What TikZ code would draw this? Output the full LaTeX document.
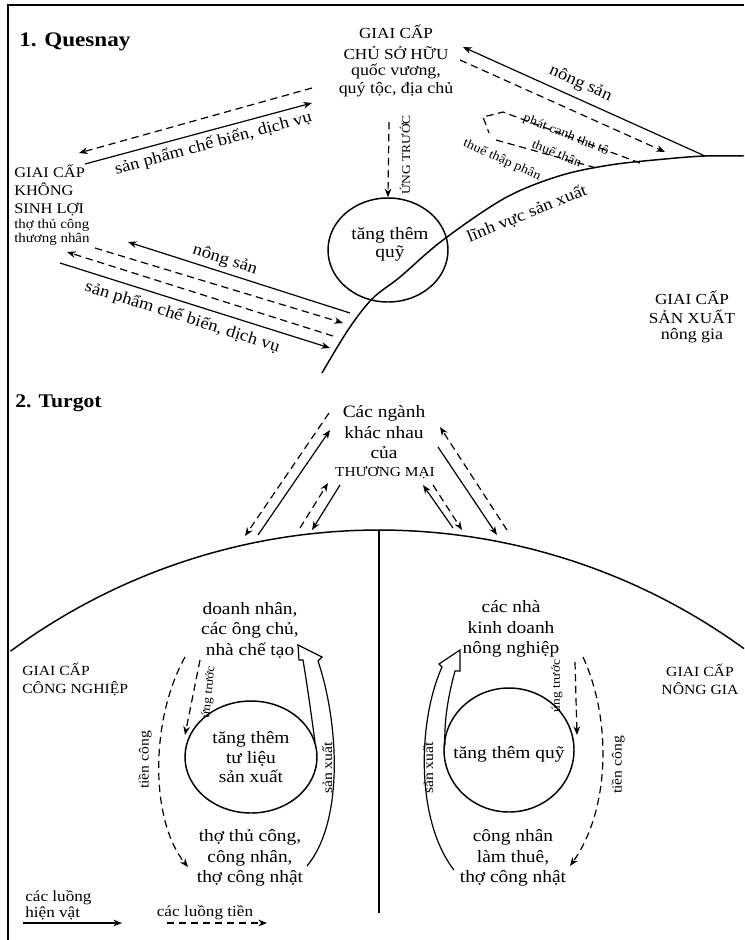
\documentclass[tikz,border=0pt]{standalone}
\usepackage{fontspec}
\setmainfont{Liberation Serif}[FakeStretch=1.12]
\usetikzlibrary{arrows.meta,shapes.geometric}
\begin{document}
\begin{tikzpicture}[x=0.75pt,y=-0.75pt,
  flow/.style={line width=0.9pt,-{Stealth[length=6.5pt,width=5pt]}},
  money/.style={flow,dash pattern=on 5.5pt off 3.5pt},
  dashline/.style={line width=0.9pt,dash pattern=on 5.5pt off 3.5pt},
  rim/.style={line width=1.1pt},
  hollow/.style={line width=0.9pt,line join=miter},
  ring/.style={draw,ellipse,line width=1.1pt,inner sep=0pt},
  lab/.style={font=\fontsize{13}{15.4}\selectfont,align=center,inner sep=0pt},
  caps/.style={font=\fontsize{11}{14}\selectfont,align=center,inner sep=0pt},
  sub/.style={font=\fontsize{12}{13.5}\selectfont,align=center,inner sep=0pt},
  note/.style={font=\fontsize{10}{12}\selectfont,inner sep=1pt},
  tag/.style={font=\fontsize{12.5}{14}\selectfont,inner sep=1pt},
  heading/.style={font=\fontsize{14.5}{17}\selectfont\bfseries,anchor=west,inner sep=0pt}]

\useasboundingbox (0,0) rectangle (744,940);

% frame
\draw[line width=2pt] (8,940) -- (8,5) -- (744,5);

% ================= 1. Quesnay =================
\node[heading,font=\fontsize{15.5}{18}\selectfont\bfseries] (qtitle) at (19,42) {1. Quesnay};

\node[caps,font=\fontsize{11.5}{15.75}\selectfont] (owners) at (396,42.5) {GIAI CẤP\\CHỦ SỞ HỮU};
\node[sub] (ownersSub) at (396,80) {quốc vương,\\quý tộc, địa chủ};

\node[caps,align=left,anchor=west,font=\fontsize{11}{13.5}\selectfont] (sterile) at (14,190) {GIAI CẤP\\KHÔNG\\SINH LỢI};
\node[sub,align=left,anchor=west,font=\fontsize{10}{10.5}\selectfont] (sterileSub) at (14,232) {thợ thủ công\\thương nhân};

\node[caps,font=\fontsize{11.5}{14.25}\selectfont] (producers) at (692,307.5) {GIAI CẤP\\SẢN XUẤT};
\node[sub] (producersSub) at (692,336) {nông gia};

% fund of advances
\node[ring,minimum width=90pt,minimum height=78pt] (fundQ) at (388,250) {};
\node[lab,font=\fontsize{13}{13.5}\selectfont] (fundQtext) at (390,244) {tăng thêm\\quỹ};

% boundary of the productive sector
\draw[rim] plot[smooth,tension=0.55] coordinates {(322,373) (348,330) (372,299) (400,277) (443,240) (505,198) (559,176) (610,165) (665,159) (705,156) (744,156)};
\node[tag,rotate=22] (sector) at (527,214) {lĩnh vực sản xuất};

% advances from the owners
\coordinate (advQ) at (389,122);
\draw[money] (advQ) -- (fundQ.north);
\node[note,rotate=90,font=\fontsize{9}{10}\selectfont] (advQlabel) at (405,155) {ỨNG TRƯỚC};

% owners <-> sterile class
\coordinate (s1) at (85,164);  \coordinate (o1) at (312,103);
\coordinate (o2) at (312,88);  \coordinate (s2) at (79,153);
\draw[flow] (s1) -- (o1) node[tag,sloped,pos=0.55,below=3pt] {sản phẩm chế biến, dịch vụ};
\draw[money] (o2) -- (s2);

% owners <-> producers
\coordinate (p1) at (705,156); \coordinate (o3) at (463,47);
\coordinate (o4) at (460,60);  \coordinate (p2) at (665,152);
\draw[flow] (p1) -- (o3) node[tag,sloped,pos=0.54,above=4pt] {nông sản};
\draw[money] (o4) -- (p2);

% rent, taxes and tithe
\draw[dashline] (640,163) -- (503,112) -- (483,117) -- (489,133);
\draw[dashline] (496,140) -- (600,169);
\node[note,rotate=-22,font=\fontsize{9.5}{11}\selectfont] (rent) at (566,135) {phát canh thu tô};
\node[note,rotate=-22,font=\fontsize{9.5}{11}\selectfont] (tax) at (557,153) {thuế thân};
\node[note,rotate=-24,font=\fontsize{9.5}{11}\selectfont] (tithe) at (502,160) {thuế thập phân};

% sterile class <-> producers
\coordinate (p3) at (350,313); \coordinate (s3) at (128,242);
\coordinate (s4) at (95,248);  \coordinate (p4) at (343,323);
\coordinate (p5) at (333,336); \coordinate (s5) at (67,252);
\coordinate (s6) at (60,263);  \coordinate (p6) at (330,348);
\draw[flow] (p3) -- (s3) node[tag,sloped,pos=0.58,above=2pt] {nông sản};
\draw[money] (s4) -- (p4);
\draw[money] (p5) -- (s5);
\draw[flow] (s6) -- (p6) node[tag,sloped,pos=0.47,below=4pt] {sản phẩm chế biến, dịch vụ};

% ================= 2. Turgot =================
\node[heading] (ttitle) at (15,403) {2. Turgot};

\node[lab,font=\fontsize{13}{15.4}\selectfont] (trade) at (384,432.5) {Các ngành\\khác nhau\\của};
\node[caps,font=\fontsize{10.3}{12}\selectfont] (tradeCaps) at (385,473) {THƯƠNG MẠI};

% boundary between the classes
\draw[rim] plot[domain=233.6:306,samples=90,smooth] ({379+621*cos(\x)},{1151+621*sin(\x)});
\coordinate (divTop) at (379,530); \coordinate (divBot) at (379,913);
\draw[line width=0.9pt] (divTop) -- (divBot);

% trade flows, industrial side
\coordinate (tl1) at (329,413); \coordinate (il1) at (245,536);
\coordinate (il2) at (258,535); \coordinate (tl2) at (330,430);
\coordinate (il3) at (300,528); \coordinate (tl3) at (328,483);
\coordinate (tl4) at (340,485); \coordinate (il4) at (312,530);
\draw[money] (tl1) -- (il1);
\draw[flow] (il2) -- (tl2);
\draw[money] (il3) -- (tl3);
\draw[flow] (tl4) -- (il4);

% trade flows, agricultural side
\coordinate (ar1) at (507,530); \coordinate (tr1) at (440,427);
\coordinate (tr2) at (438,447); \coordinate (ar2) at (497,535);
\coordinate (ar3) at (453,528); \coordinate (tr3) at (423,485);
\coordinate (tr4) at (433,485); \coordinate (ar4) at (462,530);
\draw[money] (ar1) -- (tr1);
\draw[flow] (tr2) -- (ar2);
\draw[flow] (ar3) -- (tr3);
\draw[money] (tr4) -- (ar4);

% class names
\node[caps,anchor=west,align=left,font=\fontsize{10.5}{13.5}\selectfont] (industry) at (22,679) {GIAI CẤP\\CÔNG NGHIỆP};
\node[caps,font=\fontsize{10.5}{13.5}\selectfont] (farmers) at (700,679) {GIAI CẤP\\NÔNG GIA};

% industrial circuit
\node[lab] (bosses) at (250,630) {doanh nhân,\\các ông chủ,\\nhà chế tạo};
\node[ring,minimum width=99pt,minimum height=84pt] (capL) at (251,757) {};
\node[lab,font=\fontsize{13}{14.6}\selectfont] (capLtext) at (251,757.5) {tăng thêm\\tư liệu\\sản xuất};
\node[lab] (workersL) at (250,858) {thợ thủ công,\\công nhân,\\thợ công nhật};

\coordinate (advL1) at (200,660); \coordinate (advL2) at (185,735);
\draw[money] (advL1) -- (advL2);
\node[note,rotate=84,font=\fontsize{9}{11}\selectfont] (advLlabel) at (209,692) {ứng trước};

\coordinate (wageL1) at (185,657); \coordinate (wageL2) at (188,867);
\draw[money] (wageL1) .. controls (150,720) and (150,820) .. (wageL2);
\node[note,rotate=90,font=\fontsize{10.5}{12}\selectfont] (wageLlabel) at (145,760) {tiền công};

\draw[hollow] (307,866) .. controls (345,820) and (338,720) .. (318,661)
  -- (322,657) -- (298,645) -- (299,660) -- (303,660)
  .. controls (308,690) and (312,720) .. (315,742);
\node[note,rotate=90,font=\fontsize{10.5}{12}\selectfont] (prodLlabel) at (327,768) {sản xuất};

% agricultural circuit
\node[lab] (farmBosses) at (511,629) {các nhà\\kinh doanh\\nông nghiệp};
\node[ring,minimum width=97.5pt,minimum height=93pt] (capR) at (509,750) {};
\node[lab] (capRtext) at (509,754) {tăng thêm quỹ};
\node[lab] (workersR) at (513,858) {công nhân\\làm thuê,\\thợ công nhật};

\coordinate (advR1) at (575,662); \coordinate (advR2) at (577,735);
\draw[money] (advR1) -- (advR2);
\node[note,rotate=90,font=\fontsize{9}{11}\selectfont] (advRlabel) at (557,686) {ứng trước};

\coordinate (wageR1) at (583,657); \coordinate (wageR2) at (570,866);
\draw[money] (wageR1) .. controls (612,720) and (610,810) .. (wageR2);
\node[note,rotate=90,font=\fontsize{10.5}{12}\selectfont] (wageRlabel) at (618,765) {tiền công};

\draw[hollow] (454,870) .. controls (415,820) and (418,720) .. (442,667)
  -- (439,664) -- (460,650) -- (460,671) -- (455,671)
  .. controls (447,700) and (444,725) .. (445,745);
\node[note,rotate=90,font=\fontsize{10.5}{12}\selectfont] (prodRlabel) at (428,768) {sản xuất};

% legend
\node[sub,anchor=west,align=left,font=\fontsize{11.5}{12}\selectfont] (legGoods) at (25,905) {các luồng\\hiện vật};
\coordinate (lg1) at (23,923); \coordinate (lg2) at (122,923);
\draw[flow] (lg1) -- (lg2);
\node[sub,font=\fontsize{11.5}{12}\selectfont] (legMoney) at (205,913) {các luồng tiền};
\coordinate (lm1) at (167,923); \coordinate (lm2) at (267,923);
\draw[money] (lm1) -- (lm2);

\end{tikzpicture}
\end{document}
